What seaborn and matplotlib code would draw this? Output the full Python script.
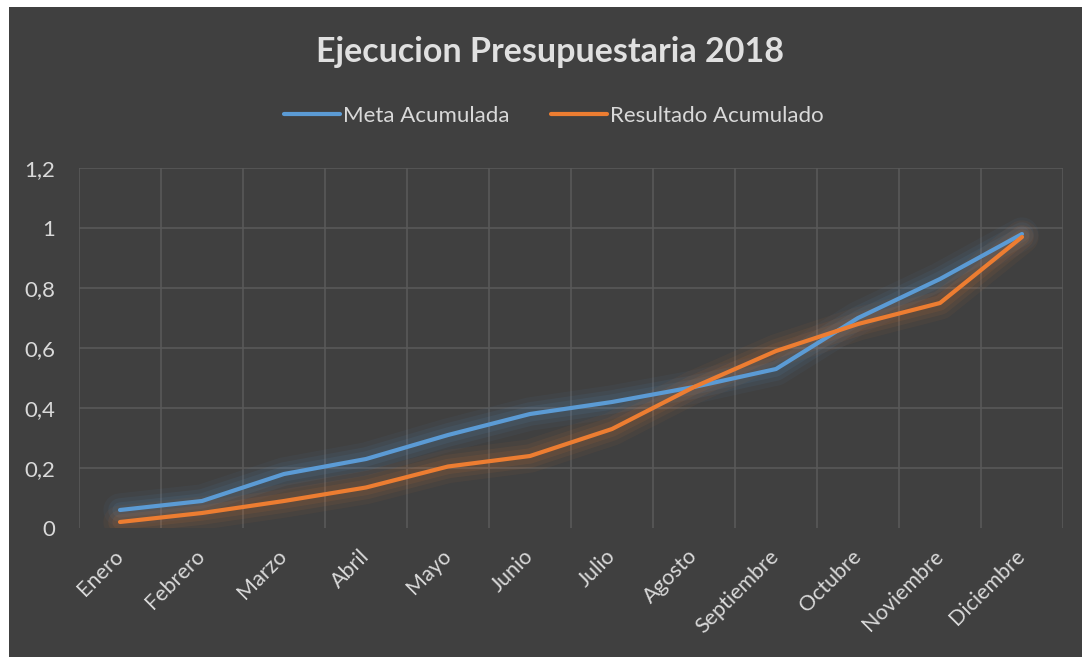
import pandas as pd
import matplotlib.pyplot as plt
import matplotlib.patches as mpatches
import seaborn as sns
import numpy as np

# DATA

MESES = ['Enero', 'Febrero', 'Marzo', 'Abril', 'Mayo', 'Junio', 'Julio',
         'Agosto', 'Septiembre', 'Octubre', 'Noviembre', 'Diciembre']
META = [0.06, 0.09, 0.18, 0.23, 0.31, 0.38, 0.42, 0.47, 0.53, 0.70, 0.83, 0.98]
RESULTADO = [0.02, 0.05, 0.09, 0.135, 0.205, 0.24, 0.33, 0.47, 0.59, 0.68, 0.75, 0.97]
Y_TICKS = [0, 0.2, 0.4, 0.6, 0.8, 1.0, 1.2]
Y_LABELS = ['0', '0,2', '0,4', '0,6', '0,8', '1', '1,2']

TITLE = 'Ejecucion Presupuestaria 2018'
SERIES = ['Meta Acumulada', 'Resultado Acumulado']
COLORS = {'Meta Acumulada': '#5B9BD5', 'Resultado Acumulado': '#ED7D31'}

# CONFIG

BG = '#404040'
GRID = '#595959'
TEXT = '#d9d9d9'
FONT = ['Lato', 'DejaVu Sans']

df = pd.DataFrame({
    'Mes': MESES * 2,
    'Valor': META + RESULTADO,
    'Serie': [SERIES[0]] * len(MESES) + [SERIES[1]] * len(MESES),
})

sns.set_theme(style='dark')
plt.rcParams['font.family'] = FONT

fig = plt.figure(figsize=(10.82, 6.57), dpi=100, facecolor='white')
fig.patches.append(mpatches.Rectangle((9 / 1082, 0), 1, 1 - 7 / 657,
                                      transform=fig.transFigure,
                                      facecolor=BG, edgecolor='none', zorder=-10))
ax = fig.add_axes([79 / 1082, 1 - 528 / 657, (1063 - 79) / 1082, (528 - 168) / 657])
ax.set_facecolor(BG)

# soft glow under the lines
x_pos = np.arange(len(MESES))
for serie, vals in zip(SERIES, [META, RESULTADO]):
    for lw, a in [(24, 0.05), (17, 0.07), (11, 0.09)]:
        ax.plot(x_pos, vals, color=COLORS[serie], lw=lw, alpha=a,
                solid_capstyle='round', zorder=2)

sns.lineplot(data=df, x='Mes', y='Valor', hue='Serie', palette=COLORS,
             sort=False, linewidth=3, ax=ax, zorder=3)

ax.set_xlim(-0.5, len(MESES) - 0.5)
ax.set_ylim(0, 1.2)
ax.set_yticks(Y_TICKS)
ax.set_yticklabels(Y_LABELS)
ax.set_xticks(x_pos)
ax.set_xticklabels(MESES, rotation=45, ha='right', va='center',
                   rotation_mode='anchor')
ax.set_xticks(np.arange(-0.5, len(MESES)), minor=True)

ax.grid(False)
ax.yaxis.grid(True, color=GRID, linewidth=1.2)
ax.xaxis.grid(True, which='minor', color=GRID, linewidth=1.2)
ax.yaxis.get_gridlines()[0].set_visible(False)
for s in ax.spines.values():
    s.set_visible(False)

ax.tick_params(axis='x', which='both', length=0, pad=18, colors=TEXT, labelsize=15.5)
ax.tick_params(axis='y', length=0, pad=17, colors=TEXT, labelsize=16)
ax.set_xlabel('')
ax.set_ylabel('')

handles, labels = ax.get_legend_handles_labels()
ax.get_legend().remove()
fig.legend(handles[-2:], labels[-2:], loc='center', ncol=2,
           bbox_to_anchor=(554 / 1082, 1 - 116 / 657), frameon=False,
           fontsize=16, labelcolor=TEXT, handlelength=2.5, handletextpad=0.15,
           columnspacing=1.85)

fig.text(550 / 1082, 1 - 52 / 657, TITLE, ha='center', va='center',
         fontsize=24.5, fontweight='bold', color='#e0e0e0')

fig.savefig('out.png', dpi=100, facecolor=fig.get_facecolor())
